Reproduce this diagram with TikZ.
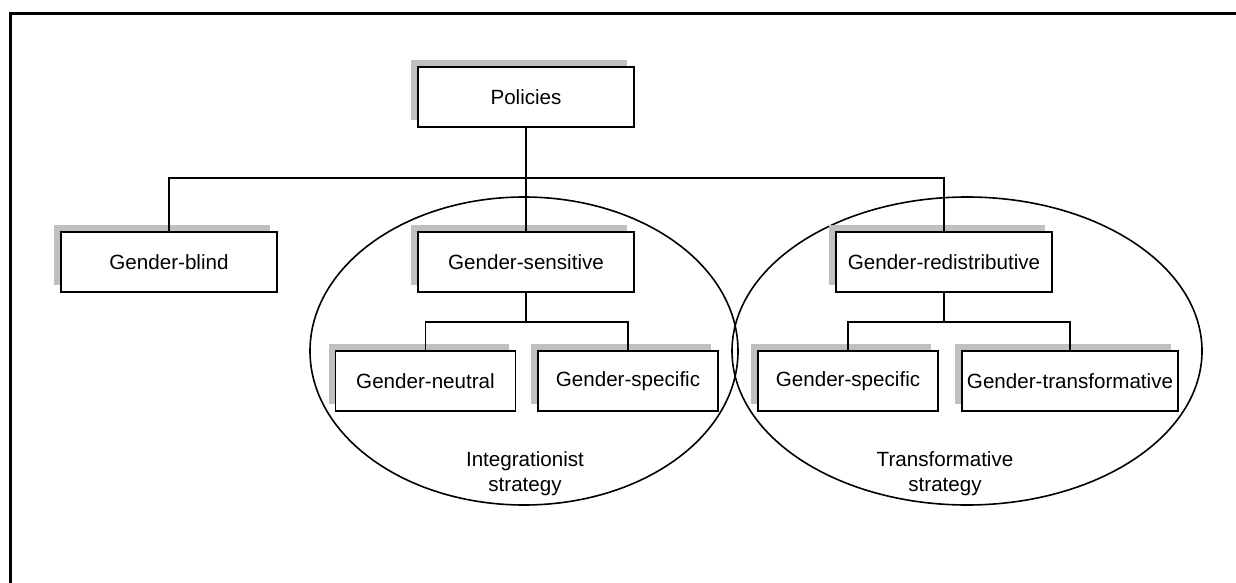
\documentclass[tikz,border=0pt]{standalone}
\usepackage{fontspec}
\setmainfont{Liberation Sans}
\usepackage{tikz}
\usetikzlibrary{shapes.geometric,shadows,positioning,calc}
\definecolor{boxshade}{HTML}{C0C0C0}

\begin{document}
\begin{tikzpicture}[x=0.5pt, y=-0.5pt,
    font=\fontsize{10.3}{12.5}\selectfont,
    policy/.style={rectangle, draw, line width=0.9pt, fill=white, minimum width=108pt, minimum height=30pt, inner sep=0pt,
        general shadow={fill=boxshade, shadow xshift=-3.5pt, shadow yshift=3.5pt}},
    smallpolicy/.style={policy, minimum width=90pt},
    strategy/.style={ellipse, draw, line width=0.8pt, inner sep=0pt},
    link/.style={line width=0.9pt}]
    \useasboundingbox (0,0) rectangle (1236,583);
    % Page frame
    \draw [line width=1.35pt] (10.3,600) |- (1250,13.3);

    % Strategies
    \node (integ) [strategy, minimum width=214pt, minimum height=154pt] at (524,351) {};
    \node (transf) [strategy, minimum width=235pt, minimum height=154pt] at (967,351) {};
    \node (integlabel) [align=center] at (525,474) {Integrationist\\strategy};
    \node (transflabel) [align=center] at (945,474) {Transformative\\strategy};

    % Top level
    \node (policies) [policy] at (526,97) {Policies};
    \node (blind) [policy] at (169,262) {Gender-blind};
    \node (sensitive) [policy] at (526,262) {Gender-sensitive};
    \node (redis) [policy] at (944,262) {Gender-redistributive};
    \coordinate (bus) at (526,178);
    \draw [link] (policies.south) -- (sensitive.north);
    \draw [link] (blind.north) |- (bus) -| (redis.north);

    % Integrationist branch
    \node (neutral) [smallpolicy] at (425.5,381) {Gender-neutral};
    \node (specA) [smallpolicy] at (628,381) {Gender-specific};
    \coordinate (lbus) at (526,322);
    \draw [link] (sensitive.south) -- (lbus);
    \draw [link] (neutral.north) |- (lbus) -| (specA.north);

    % Transformative branch
    \node (specB) [smallpolicy] at (848,381) {Gender-specific};
    \node (transfpol) [policy] at (1070,381) {Gender-transformative};
    \coordinate (rbus) at (944,322);
    \draw [link] (redis.south) -- (rbus);
    \draw [link] (specB.north) |- (rbus) -| (transfpol.north);
\end{tikzpicture}
\end{document}
